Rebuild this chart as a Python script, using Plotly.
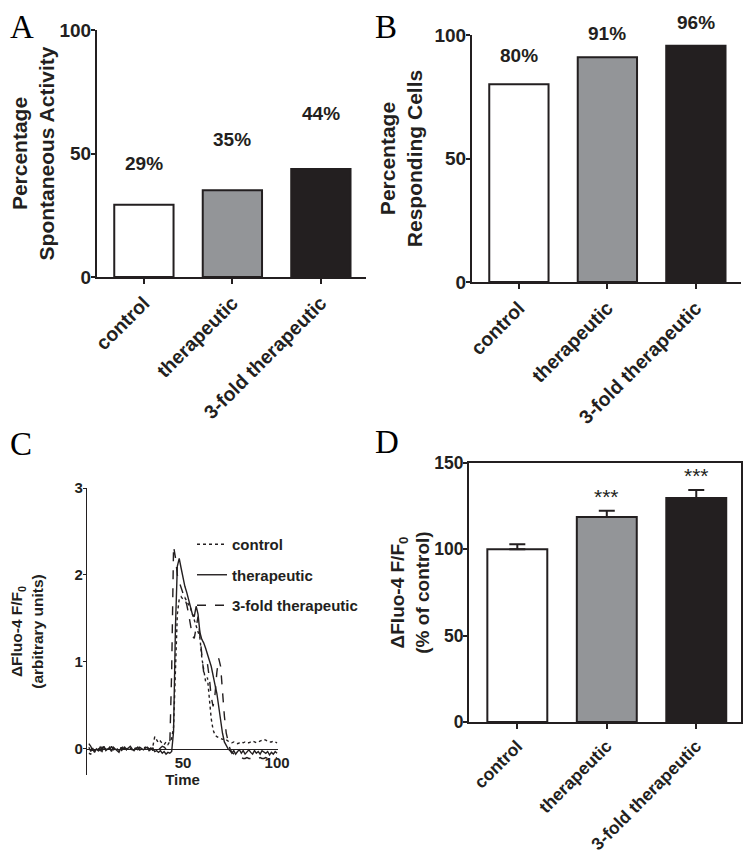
import plotly.graph_objects as go

# ---------------- data ----------------
categories = ["control", "therapeutic", "3-fold therapeutic"]

spont_activity = [29.3, 35.1, 43.7]          # panel A (%)
spont_labels = ["29%", "35%", "44%"]

responding = [80.1, 91.0, 95.6]              # panel B (%)
responding_labels = ["80%", "91%", "96%"]

fluo_mean = [100.0, 118.7, 129.7]            # panel D (% of control)
fluo_sem = [3.0, 3.6, 4.6]
fluo_sig = ["", "***", "***"]

# panel C traces (time 0..100)
time = list(range(0, 101))
trace_control = [
    -0.05, -0.06, -0.03, -0.02, 0.01, -0.02, 0.0, -0.03, 0.01, 0.0,
    -0.02, 0.02, 0.0, -0.01, 0.02, 0.0, -0.02, 0.01, 0.02, -0.01,
    0.0, 0.02, 0.0, -0.01, 0.01, 0.0, 0.02, -0.01, 0.0, 0.01,
    0.02, 0.0, -0.01, 0.01, 0.03,
    0.14, 0.10, 0.07, 0.09, 0.06, 0.05, 0.08, 0.05, 0.09, 0.12,
    0.25, 0.90, 1.55, 1.72, 1.75, 1.72, 1.74, 1.70, 1.66, 1.62,
    1.55, 1.48, 1.42, 1.35, 1.28, 1.05, 0.92, 0.78, 0.82, 0.55,
    0.35, 0.22, 0.16, 0.14, 0.13, 0.12, 0.11, 0.12, 0.10, 0.09,
    0.08,
    0.07, 0.08, 0.07, 0.06, 0.07, 0.08, 0.07, 0.08, 0.07, 0.07,
    0.08, 0.09, 0.08, 0.07, 0.08, 0.09, 0.10, 0.11, 0.10, 0.09,
    0.08, 0.08, 0.09, 0.08, 0.07,
]
trace_therapeutic = [
    0.02, -0.03, 0.01, -0.04, 0.0, -0.02, 0.02, -0.01, 0.03, -0.02,
    0.0, 0.01, -0.03, 0.02, 0.0, -0.02, -0.04, 0.01, 0.0, 0.02,
    -0.01, 0.01, 0.03, 0.0, -0.02, 0.01, -0.01, 0.02, 0.0, -0.01,
    0.01, 0.02, -0.02, 0.0, 0.01, -0.03, -0.02, -0.04, -0.02, -0.05,
    -0.03, -0.06, -0.04, -0.05,
    -0.03, 0.20, 1.40, 2.10, 2.19, 2.08, 1.95, 1.87, 1.80, 1.72,
    1.66, 1.55, 1.52, 1.64, 1.55, 1.34, 1.26, 1.22, 1.16, 1.10,
    1.02, 0.95, 0.86, 0.74, 0.64, 0.48, 0.33, 0.18, 0.08, 0.04,
    0.0, -0.02,
    -0.05, -0.02, -0.06, -0.03, -0.01, -0.05, -0.02, -0.06, -0.03, -0.01,
    -0.04, -0.06, -0.02, -0.05, -0.03, -0.06, -0.02, -0.04, -0.05, -0.03,
    -0.07, -0.04, -0.06, -0.03, -0.05,
]
trace_3fold = [
    0.06, 0.03, -0.02, 0.01, -0.03, 0.0, -0.02, 0.02, -0.01, 0.0,
    0.01, -0.02, 0.03, 0.0, -0.01, 0.01, 0.0, -0.03, 0.0, 0.01,
    -0.01, 0.02, 0.0, -0.01, 0.01, 0.0, 0.02, -0.01, 0.0, 0.01,
    -0.01, 0.02, 0.0, 0.01, -0.02, 0.03, 0.0, -0.01, 0.01, 0.03,
    0.02, 0.0, 0.02,
    0.05, 0.90, 2.33, 2.20, 2.00, 1.92, 1.85, 1.78, 1.72, 1.66,
    1.55, 1.42, 1.30, 1.27, 1.40, 1.52, 1.30, 1.05, 0.88, 0.93,
    0.98, 0.82, 0.60, 0.49, 0.62, 0.88, 1.04, 0.95, 0.62, 0.38,
    0.18, 0.07, 0.0, -0.04, -0.06,
    -0.08, -0.09, -0.10, -0.10, -0.11, -0.11, -0.10, -0.11, -0.11, -0.10,
    -0.11, -0.11, -0.11, -0.10, -0.11, -0.11, -0.10, -0.11, -0.11, -0.10,
    -0.10, -0.11, -0.10,
]
trace_names = ["control", "therapeutic", "3-fold therapeutic"]

# ---------------- style / layout ----------------
OFF = 8                      # page body margin of the exported html
W, H = 751 - OFF, 853 - OFF
INK = "#231f20"
GREY = "#939598"
bar_colors = ["#ffffff", GREY, INK]
SANS = "Liberation Sans, Arial, sans-serif"
SERIF = "Liberation Serif, Times New Roman, serif"

def px_dom_x(a, b):
    return [(a - OFF) / W, (b - OFF) / W]

def px_dom_y(top, bottom):
    return [1 - (bottom - OFF) / H, 1 - (top - OFF) / H]

fig = go.Figure()

bar_common = dict(marker=dict(color=bar_colors, line=dict(color=INK, width=2)),
                  width=0.67, showlegend=False, hoverinfo="skip")

fig.add_trace(go.Bar(x=categories, y=spont_activity, xaxis="x", yaxis="y", **bar_common))
fig.add_trace(go.Bar(x=categories, y=responding, xaxis="x2", yaxis="y2", **bar_common))
fig.add_trace(go.Bar(x=categories, y=fluo_mean, xaxis="x4", yaxis="y4",
                     error_y=dict(type="data", symmetric=False, array=fluo_sem,
                                  arrayminus=[0] * len(fluo_sem), color=INK,
                                  thickness=2, width=8),
                     **bar_common))

dashes = ["dot", "solid", "dash"]
for i, (name, ys) in enumerate(zip(trace_names, [trace_control, trace_therapeutic, trace_3fold])):
    fig.add_trace(go.Scatter(x=time, y=ys, mode="lines", name=name,
                             line=dict(color=INK, width=1.4, dash=dashes[i]),
                             xaxis="x3", yaxis="y3", legendgroup=name,
                             hoverinfo="skip"))

def f(size, weight="bold"):
    return dict(family=SANS, size=size, color=INK, weight=weight)

small_font = f(15)

def cat_xaxis(dom, anchor, rng, size, mirror=False):
    return dict(domain=dom, anchor=anchor, type="category", range=rng,
                showline=True, linecolor=INK, linewidth=2, mirror=mirror,
                ticks="outside", ticklen=5, tickwidth=2, tickcolor=INK,
                tickangle=-45, tickfont=f(size), showgrid=False, zeroline=False,
                automargin=False)

def val_yaxis(dom, anchor, rng, dtick, title, size, tsize, standoff, mirror=False):
    return dict(domain=dom, anchor=anchor, range=rng, dtick=dtick,
                showline=True, linecolor=INK, linewidth=2, mirror=mirror,
                ticks="outside", ticklen=4, tickwidth=2, tickcolor=INK,
                ticklabelstandoff=-4,
                tickfont=f(size), showgrid=False, zeroline=False,
                automargin=False,
                title=dict(text=title, font=f(tsize), standoff=standoff))

# domains (reference pixels)
A_x, A_y = px_dom_x(97, 366), px_dom_y(30, 277)
B_x, B_y = px_dom_x(472, 741), px_dom_y(35, 282)
C_x, C_y = px_dom_x(87, 278), px_dom_y(488, 775)
D_x, D_y = px_dom_x(469, 741), px_dom_y(463, 722)

C_yrange = [-0.3, 3]
C_zero = C_y[0] + (0 - C_yrange[0]) / (C_yrange[1] - C_yrange[0]) * (C_y[1] - C_y[0])

fig.update_layout(
    width=W, height=H, margin=dict(l=0, r=0, t=0, b=0, autoexpand=False),
    paper_bgcolor="white", plot_bgcolor="white",
    xaxis=cat_xaxis(A_x, "y", [-0.53, 2.51], 19.5),
    yaxis=val_yaxis(A_y, "x", [0, 100], 50, "Percentage<br>Spontaneous Activity", 19, 21, 6),
    xaxis2=cat_xaxis(B_x, "y2", [-0.53, 2.51], 19.5),
    yaxis2=val_yaxis(B_y, "x2", [0, 100], 50, "Percentage<br>Responding Cells", 19, 21, 6),
    xaxis4=cat_xaxis(D_x, "y4", [-0.54, 2.5], 17.5, mirror=True),
    yaxis4=val_yaxis(D_y, "x4", [0, 150], 50, "ΔFluo-4 F/F<sub>0</sub><br>(% of control)",
                     17.5, 19, 0, mirror=True),
    xaxis3=dict(domain=C_x, anchor="free", position=C_zero, range=[-1, 100.5],
                showline=True, linecolor=INK, linewidth=1.2, ticks="",
                tickvals=[50, 100], tickfont=small_font, showgrid=False,
                zeroline=False, automargin=False,
                title=dict(text="Time", font=small_font, standoff=2)),
    yaxis3=dict(domain=C_y, anchor="x3", range=C_yrange, tickvals=[0, 1, 2, 3],
                showline=True, linecolor=INK, linewidth=1.2, ticks="outside",
                ticklen=3, tickwidth=1.2, tickcolor=INK, tickfont=small_font,
                ticklabelstandoff=-3,
                showgrid=False, zeroline=False, automargin=False,
                title=dict(text="ΔFluo-4 F/F<sub>0</sub><br>(arbitrary units)",
                           font=f(15.5), standoff=27)),
    legend=dict(x=(192 - OFF) / W, y=1 - (528 - OFF) / H, xanchor="left", yanchor="top",
                font=small_font, bgcolor="rgba(0,0,0,0)", tracegroupgap=8,
                itemwidth=30),
    showlegend=True,
)

def paper_y(dom, rng, v):
    return dom[0] + (v - rng[0]) / (rng[1] - rng[0]) * (dom[1] - dom[0])

annotations = []
A_label_y = [46, 55.5, 66.3]
B_label_y = [91.9, 100.7, 105]
for c, t, yy in zip(categories, spont_labels, A_label_y):
    annotations.append(dict(x=c, y=paper_y(A_y, [0, 100], yy), xref="x", yref="paper",
                            xanchor="center", yanchor="middle",
                            text=t, showarrow=False, font=f(19)))
for c, t, yy in zip(categories, responding_labels, B_label_y):
    annotations.append(dict(x=c, y=paper_y(B_y, [0, 100], yy), xref="x2", yref="paper",
                            xanchor="center", yanchor="middle",
                            text=t, showarrow=False, font=f(19)))
for c, t, v, e in zip(categories, fluo_sig, fluo_mean, fluo_sem):
    if t:
        annotations.append(dict(x=c, y=v + e, xref="x4", yref="y4", text=t,
                                showarrow=False, yanchor="bottom", yshift=1,
                                font=f(21, "normal")))

for letter, lx, ly in [("A", 9, 8), ("B", 374, 8), ("C", 9, 425), ("D", 374, 423)]:
    annotations.append(dict(x=(lx - OFF) / W, y=1 - (ly - OFF) / H, xref="paper", yref="paper",
                            xanchor="left", yanchor="top", text=letter, showarrow=False,
                            borderpad=0,
                            font=dict(family=SERIF, size=33, color="black")))

fig.update_layout(annotations=annotations)
fig.write_html("out.html")
